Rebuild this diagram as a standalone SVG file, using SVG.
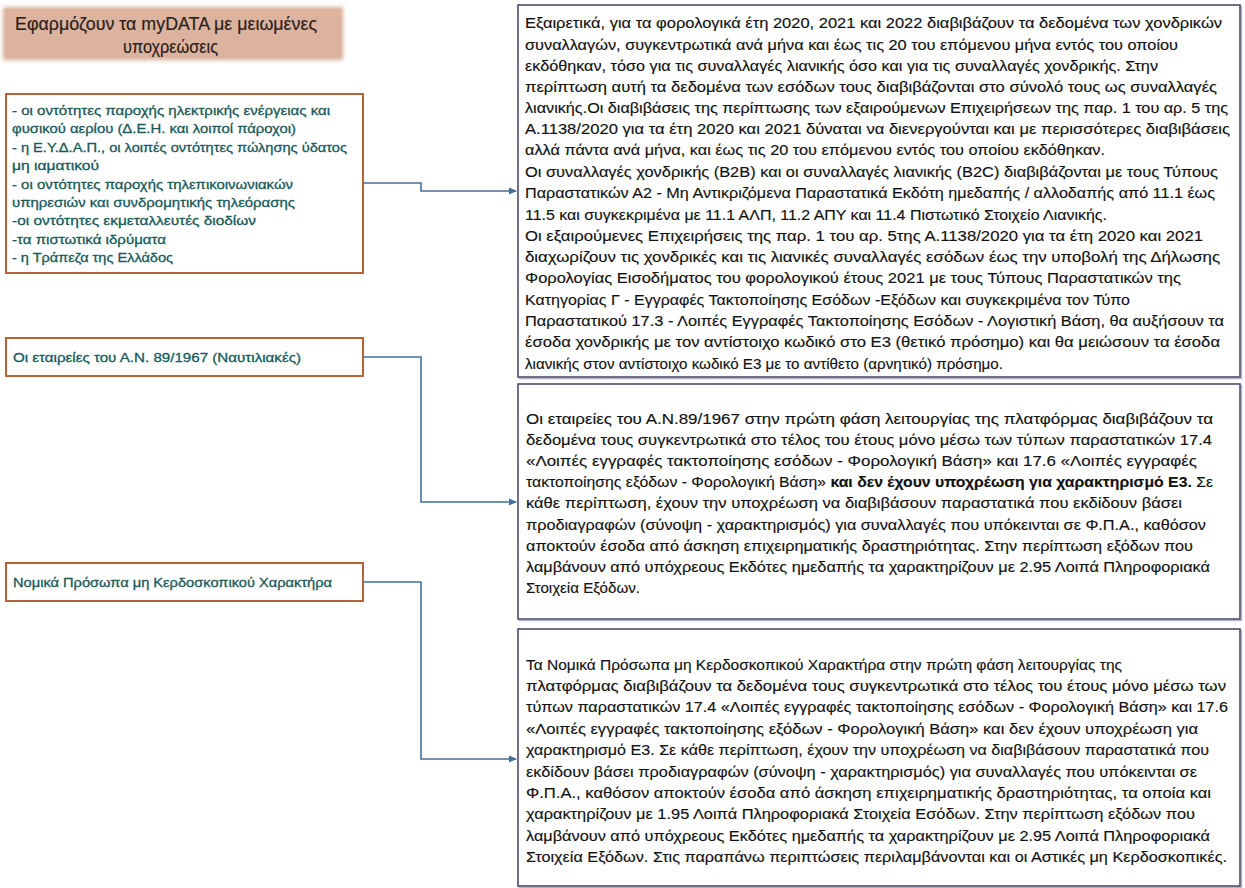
<svg xmlns="http://www.w3.org/2000/svg" width="1245" height="888" viewBox="0 0 1245 888">
<defs>
<style>
.t{font-family:"Liberation Sans",Arial,sans-serif;}
.title{font-size:18.5px;fill:#2e2018;stroke:#2e2018;stroke-width:0.2;}
.lt{font-size:13.5px;fill:#15595a;stroke:#15595a;stroke-width:0.3;}
.r1{font-size:14.5px;fill:#111;stroke:#111;stroke-width:0.15;}
.r2{font-size:15.5px;fill:#111;stroke:#111;stroke-width:0.15;}
.b{font-weight:bold;}
.lbox{fill:#fff;stroke:#b5643a;stroke-width:2;}
.rbox{fill:#fff;stroke:#4d4d6b;stroke-width:1.6;}
.rsh{fill:none;stroke:#b4b4c8;stroke-width:1.5;}
.conn{fill:none;stroke:#41709c;stroke-width:1.6;}
</style>
<marker id="arr" markerWidth="8" markerHeight="8" refX="7" refY="4" orient="auto" markerUnits="userSpaceOnUse">
<path d="M0,0.5 L8,4 L0,7.5 Z" fill="#41709c"/>
</marker>
<filter id="soft" x="-5%" y="-20%" width="110%" height="140%"><feGaussianBlur stdDeviation="2"/></filter>
</defs>
<rect width="1245" height="888" fill="#fff"/>

<g id="title">
<rect x="3" y="7" width="340" height="53" fill="#d9ae99" filter="url(#soft)"/>
<rect x="5" y="9" width="336" height="49" fill="#dcb39f"/>
<text class="t title" x="15" y="29.5" textLength="302" lengthAdjust="spacingAndGlyphs">Εφαρμόζουν τα myDATA με μειωμένες</text>
<text class="t title" x="123" y="53" textLength="95" lengthAdjust="spacingAndGlyphs">υποχρεώσεις</text>
</g>

<g id="left1">
<rect class="lbox" x="6" y="94" width="357" height="179"/>
<text class="t lt" x="12" y="115" textLength="318" lengthAdjust="spacingAndGlyphs">- οι οντότητες παροχής ηλεκτρικής ενέργειας και</text>
<text class="t lt" x="12" y="133.4" textLength="284" lengthAdjust="spacingAndGlyphs">φυσικού αερίου (Δ.Ε.Η. και λοιποί πάροχοι)</text>
<text class="t lt" x="12" y="151.8" textLength="335" lengthAdjust="spacingAndGlyphs">- η Ε.Υ.Δ.Α.Π., οι λοιπές οντότητες πώλησης ύδατος</text>
<text class="t lt" x="12" y="170.2" textLength="87" lengthAdjust="spacingAndGlyphs">μη ιαματικού</text>
<text class="t lt" x="12" y="188.6" textLength="281" lengthAdjust="spacingAndGlyphs">- οι οντότητες παροχής τηλεπικοινωνιακών</text>
<text class="t lt" x="12" y="207" textLength="283" lengthAdjust="spacingAndGlyphs">υπηρεσιών και συνδρομητικής τηλεόρασης</text>
<text class="t lt" x="12" y="225.4" textLength="244" lengthAdjust="spacingAndGlyphs">-οι οντότητες εκμεταλλευτές διοδίων</text>
<text class="t lt" x="12" y="243.8" textLength="154" lengthAdjust="spacingAndGlyphs">-τα πιστωτικά ιδρύματα</text>
<text class="t lt" x="12" y="262.2" textLength="161" lengthAdjust="spacingAndGlyphs">- η Τράπεζα της Ελλάδος</text>
</g>

<g id="left2">
<rect class="lbox" x="6" y="338" width="357" height="38"/>
<text class="t lt" x="13" y="361.8" textLength="288" lengthAdjust="spacingAndGlyphs">Οι εταιρείες του Α.Ν. 89/1967 (Ναυτιλιακές)</text>
</g>

<g id="left3">
<rect class="lbox" x="6" y="563" width="357" height="38"/>
<text class="t lt" x="13" y="586.8" textLength="319" lengthAdjust="spacingAndGlyphs">Νομικά Πρόσωπα μη Κερδοσκοπικού Χαρακτήρα</text>
</g>

<g id="right1">
<rect class="rsh" x="519.5" y="6.5" width="722" height="372"/>
<rect class="rbox" x="518" y="5" width="722" height="372"/>
<text class="t r1" x="525" y="28.3" textLength="697" lengthAdjust="spacingAndGlyphs">Εξαιρετικά, για τα φορολογικά έτη 2020, 2021 και 2022 διαβιβάζουν τα δεδομένα των χονδρικών</text>
<text class="t r1" x="525" y="49.5" textLength="653" lengthAdjust="spacingAndGlyphs">συναλλαγών, συγκεντρωτικά ανά μήνα και έως τις 20 του επόμενου μήνα εντός του οποίου</text>
<text class="t r1" x="525" y="70.7" textLength="633" lengthAdjust="spacingAndGlyphs">εκδόθηκαν, τόσο για τις συναλλαγές λιανικής όσο και για τις συναλλαγές χονδρικής. Στην</text>
<text class="t r1" x="525" y="91.8" textLength="692" lengthAdjust="spacingAndGlyphs">περίπτωση αυτή τα δεδομένα των εσόδων τους διαβιβάζονται στο σύνολό τους ως συναλλαγές</text>
<text class="t r1" x="525" y="113" textLength="703" lengthAdjust="spacingAndGlyphs">λιανικής.Οι διαβιβάσεις της περίπτωσης των εξαιρούμενων Επιχειρήσεων της παρ. 1 του αρ. 5 της</text>
<text class="t r1" x="525" y="134.2" textLength="705" lengthAdjust="spacingAndGlyphs">Α.1138/2020 για τα έτη 2020 και 2021 δύναται να διενεργούνται και με περισσότερες διαβιβάσεις</text>
<text class="t r1" x="525" y="155.3" textLength="580" lengthAdjust="spacingAndGlyphs">αλλά πάντα ανά μήνα, και έως τις 20 του επόμενου εντός του οποίου εκδόθηκαν.</text>
<text class="t r1" x="525" y="176.5" textLength="693" lengthAdjust="spacingAndGlyphs">Οι συναλλαγές χονδρικής (B2B) και οι συναλλαγές λιανικής (B2C) διαβιβάζονται με τους Τύπους</text>
<text class="t r2" x="525" y="198.2" textLength="690" lengthAdjust="spacingAndGlyphs">Παραστατικών Α2 - Μη Αντικριζόμενα Παραστατικά Εκδότη ημεδαπής / αλλοδαπής από 11.1 έως</text>
<text class="t r2" x="525" y="219.5" textLength="582" lengthAdjust="spacingAndGlyphs">11.5 και συγκεκριμένα με 11.1 ΑΛΠ, 11.2 ΑΠΥ και 11.4 Πιστωτικό Στοιχείο Λιανικής.</text>
<text class="t r2" x="525" y="240.8" textLength="678" lengthAdjust="spacingAndGlyphs">Οι εξαιρούμενες Επιχειρήσεις της παρ. 1 του αρ. 5της Α.1138/2020 για τα έτη 2020 και 2021</text>
<text class="t r2" x="525" y="262.1" textLength="695" lengthAdjust="spacingAndGlyphs">διαχωρίζουν τις χονδρικές και τις λιανικές συναλλαγές εσόδων έως την υποβολή της Δήλωσης</text>
<text class="t r2" x="525" y="283.4" textLength="656" lengthAdjust="spacingAndGlyphs">Φορολογίας Εισοδήματος του φορολογικού έτους 2021 με τους Τύπους Παραστατικών της</text>
<text class="t r2" x="525" y="304.7" textLength="605" lengthAdjust="spacingAndGlyphs">Κατηγορίας Γ - Εγγραφές Τακτοποίησης Εσόδων -Εξόδων και συγκεκριμένα τον Τύπο</text>
<text class="t r2" x="525" y="326" textLength="699" lengthAdjust="spacingAndGlyphs">Παραστατικού 17.3 - Λοιπές Εγγραφές Τακτοποίησης Εσόδων - Λογιστική Βάση, θα αυξήσουν τα</text>
<text class="t r2" x="525" y="347.3" textLength="695" lengthAdjust="spacingAndGlyphs">έσοδα χονδρικής με τον αντίστοιχο κωδικό στο Ε3 (θετικό πρόσημο) και θα μειώσουν τα έσοδα</text>
<text class="t r2" x="525" y="368.6" textLength="478" lengthAdjust="spacingAndGlyphs">λιανικής στον αντίστοιχο κωδικό Ε3 με το αντίθετο (αρνητικό) πρόσημο.</text>
</g>

<g id="right2">
<rect class="rsh" x="519.5" y="385.5" width="722" height="235"/>
<rect class="rbox" x="518" y="384" width="722" height="235"/>
<text class="t r2" x="526" y="423.5" textLength="687" lengthAdjust="spacingAndGlyphs">Οι εταιρείες του Α.Ν.89/1967  στην πρώτη φάση λειτουργίας της πλατφόρμας διαβιβάζουν τα</text>
<text class="t r2" x="526" y="444.7" textLength="686" lengthAdjust="spacingAndGlyphs">δεδομένα τους συγκεντρωτικά στο τέλος του έτους μόνο μέσω των τύπων παραστατικών 17.4</text>
<text class="t r2" x="526" y="465.9" textLength="671" lengthAdjust="spacingAndGlyphs">«Λοιπές εγγραφές τακτοποίησης εσόδων - Φορολογική Βάση» και 17.6 «Λοιπές εγγραφές</text>
<text class="t r2" x="526" y="487.1" textLength="687" lengthAdjust="spacingAndGlyphs">τακτοποίησης εξόδων - Φορολογική Βάση» <tspan class="b">και δεν έχουν υποχρέωση για χαρακτηρισμό Ε3.</tspan> Σε</text>
<text class="t r2" x="526" y="508.3" textLength="656" lengthAdjust="spacingAndGlyphs">κάθε περίπτωση, έχουν την υποχρέωση να διαβιβάσουν παραστατικά που εκδίδουν βάσει</text>
<text class="t r2" x="526" y="529.5" textLength="680" lengthAdjust="spacingAndGlyphs">προδιαγραφών (σύνοψη - χαρακτηρισμός) για συναλλαγές που υπόκεινται σε Φ.Π.Α., καθόσον</text>
<text class="t r2" x="526" y="550.7" textLength="667" lengthAdjust="spacingAndGlyphs">αποκτούν έσοδα από άσκηση επιχειρηματικής δραστηριότητας. Στην περίπτωση εξόδων που</text>
<text class="t r2" x="526" y="571.9" textLength="684" lengthAdjust="spacingAndGlyphs">λαμβάνουν από υπόχρεους Εκδότες ημεδαπής τα χαρακτηρίζουν με 2.95 Λοιπά Πληροφοριακά</text>
<text class="t r2" x="526" y="593.1" textLength="114" lengthAdjust="spacingAndGlyphs">Στοιχεία Εξόδων.</text>
</g>

<g id="right3">
<rect class="rsh" x="519.5" y="630.5" width="722" height="257"/>
<rect class="rbox" x="518" y="629" width="722" height="257"/>
<text class="t r2" x="526" y="669.5" textLength="596" lengthAdjust="spacingAndGlyphs">Τα Νομικά Πρόσωπα μη Κερδοσκοπικού Χαρακτήρα στην πρώτη φάση λειτουργίας της</text>
<text class="t r2" x="526" y="690.9" textLength="700" lengthAdjust="spacingAndGlyphs">πλατφόρμας διαβιβάζουν τα δεδομένα τους συγκεντρωτικά στο τέλος του έτους μόνο μέσω των</text>
<text class="t r2" x="526" y="712.3" textLength="702" lengthAdjust="spacingAndGlyphs">τύπων παραστατικών 17.4 «Λοιπές εγγραφές τακτοποίησης εσόδων - Φορολογική Βάση» και 17.6</text>
<text class="t r2" x="526" y="733.7" textLength="672" lengthAdjust="spacingAndGlyphs">«Λοιπές εγγραφές τακτοποίησης εξόδων - Φορολογική Βάση» και δεν έχουν υποχρέωση για</text>
<text class="t r2" x="526" y="755.1" textLength="683" lengthAdjust="spacingAndGlyphs">χαρακτηρισμό Ε3. Σε κάθε περίπτωση, έχουν την υποχρέωση να διαβιβάσουν παραστατικά που</text>
<text class="t r2" x="526" y="776.5" textLength="671" lengthAdjust="spacingAndGlyphs">εκδίδουν βάσει προδιαγραφών (σύνοψη - χαρακτηρισμός) για συναλλαγές που υπόκεινται σε</text>
<text class="t r2" x="526" y="797.9" textLength="685" lengthAdjust="spacingAndGlyphs">Φ.Π.Α., καθόσον αποκτούν έσοδα από άσκηση επιχειρηματικής δραστηριότητας, τα οποία και</text>
<text class="t r2" x="526" y="819.3" textLength="669" lengthAdjust="spacingAndGlyphs">χαρακτηρίζουν με 1.95 Λοιπά Πληροφοριακά Στοιχεία Εσόδων. Στην περίπτωση εξόδων που</text>
<text class="t r2" x="526" y="840.7" textLength="684" lengthAdjust="spacingAndGlyphs">λαμβάνουν από υπόχρεους Εκδότες ημεδαπής τα χαρακτηρίζουν με 2.95 Λοιπά Πληροφοριακά</text>
<text class="t r2" x="526" y="862.1" textLength="701" lengthAdjust="spacingAndGlyphs">Στοιχεία Εξόδων. Στις παραπάνω περιπτώσεις περιλαμβάνονται και οι Αστικές μη Κερδοσκοπικές.</text>
</g>

<g id="connectors">
<path class="conn" d="M363,183 H421 V191 H516" marker-end="url(#arr)"/>
<path class="conn" d="M363,357 H421 V502 H516" marker-end="url(#arr)"/>
<path class="conn" d="M363,582 H421 V759 H516" marker-end="url(#arr)"/>
</g>
</svg>
